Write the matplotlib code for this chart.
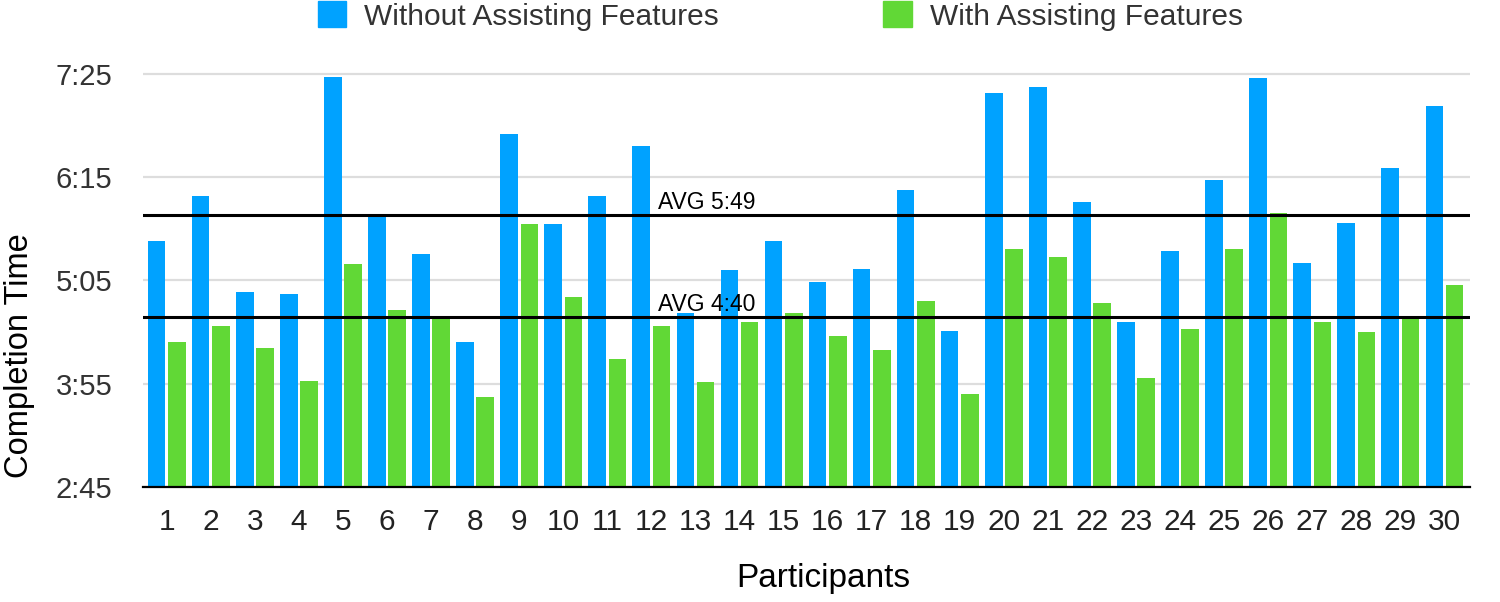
import matplotlib.pyplot as plt
from matplotlib.patches import Patch
import numpy as np

plt.rcParams['font.family'] = ['Liberation Sans', 'DejaVu Sans']

# completion times in seconds
participants = list(range(1, 31))
without_feat = [332, 362, 297, 296, 443, 348, 323, 263, 404, 343,
                362, 396, 283, 312, 332, 304, 313, 366, 271, 432,
                436, 358, 277, 325, 373, 442, 317, 344, 381, 423]
with_feat = [263, 274, 259, 237, 316, 285, 279, 226, 343, 294,
             252, 274, 236, 277, 283, 267, 258, 291, 228, 326,
             321, 290, 239, 272, 326, 351, 277, 270, 279, 302]
avg_without = 349  # 5:49
avg_with = 280     # 4:40
y_ticks = [165, 235, 305, 375, 445]
series_names = ["Without Assisting Features", "With Assisting Features"]


def mmss(sec):
    return f"{int(sec) // 60}:{int(sec) % 60:02d}"


azul = "#00A2FF"
verde = "#61D836"

fig = plt.figure(figsize=(15, 6.02), dpi=100)
ax = fig.add_axes([0.0953, 0.1910, 0.8847, 0.6938])

x = np.array(participants)
ax.bar(x - 0.23, without_feat, width=0.40, color=azul, zorder=2)
ax.bar(x + 0.23, with_feat, width=0.40, color=verde, zorder=2)

ax.set_xlim(0.46, 30.58)
ax.set_ylim(165, 448)

ax.set_yticks(y_ticks)
ax.set_yticklabels([mmss(t) for t in y_ticks])
ax.set_xticks(x)
ax.set_xticklabels([str(p) for p in participants])
ax.tick_params(axis="y", length=0, pad=22, labelsize=21, labelcolor="#333333")
ax.tick_params(axis="x", length=0, pad=15, labelsize=21.5, labelcolor="#222222")

ax.grid(axis="y", color="#dddddd", linewidth=1.6, zorder=0)
for lado in ["top", "right", "left"]:
    ax.spines[lado].set_visible(False)
ax.spines["bottom"].set_color("black")
ax.spines["bottom"].set_linewidth(1.6)
ax.spines["bottom"].set_zorder(4)

# lineas de promedio
for prom in [avg_without, avg_with]:
    ax.axhline(prom, color="black", linewidth=2.2, zorder=3)
    ax.annotate(f"AVG {mmss(prom)}", xy=(12.15, prom), xytext=(0, 4.5),
                textcoords="offset points", ha="left", va="baseline",
                fontsize=16.5, color="black", zorder=5)

fig.text(20 / 1500, 1 - 356 / 602, "Completion Time", rotation=90,
         ha="center", va="center", fontsize=23.5, color="black")
fig.text(823 / 1500, 1 - 578 / 602, "Participants",
         ha="center", va="center", fontsize=24, color="black")

handles = [Patch(color=azul), Patch(color=verde)]
fig.legend(handles, series_names, loc="center left",
           bbox_to_anchor=(318 / 1500, 1 - 16 / 602), ncol=2, frameon=False,
           fontsize=21.5, labelcolor="#333333", borderpad=0, borderaxespad=0,
           handlelength=0.95, handleheight=0.95, handletextpad=0.6,
           columnspacing=5.5)

plt.savefig("out.png", dpi=100)
plt.close()
